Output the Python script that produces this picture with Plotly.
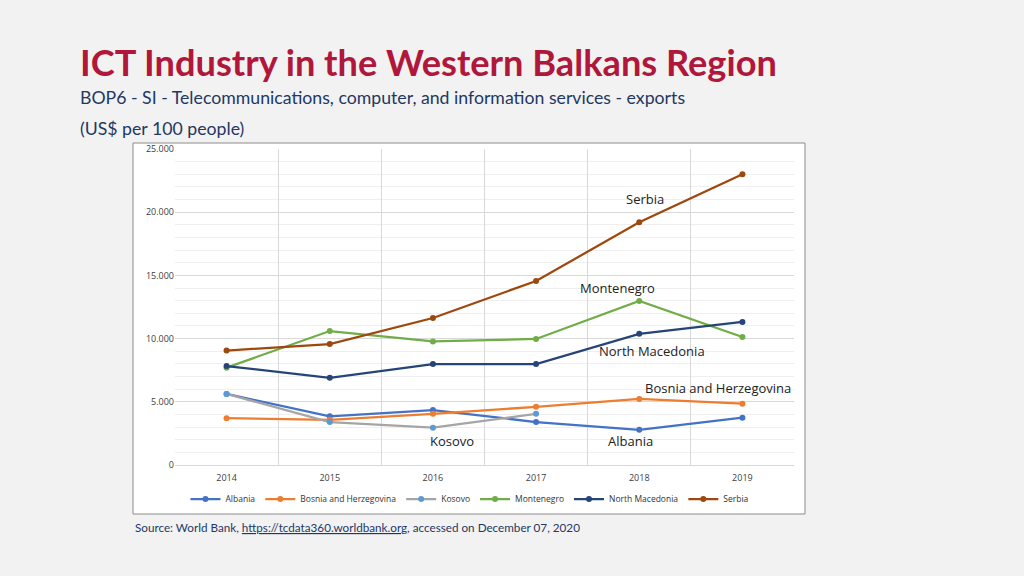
import plotly.graph_objects as go

years = ["2014", "2015", "2016", "2017", "2018", "2019"]

albania = [5620, 3850, 4350, 3400, 2780, 3740]
bosnia = [3700, 3580, 4050, 4600, 5230, 4850]
kosovo = [5620, 3400, 2950, 4050]
montenegro = [7700, 10600, 9780, 9970, 12970, 10130]
north_macedonia = [7830, 6900, 7990, 7990, 10380, 11320]
serbia = [9050, 9570, 11630, 14560, 19200, 23000]

y_ticks = [0, 5000, 10000, 15000, 20000, 25000]

series = [
    ("Albania", albania, "#4472C4", "#4472C4"),
    ("Bosnia and Herzegovina", bosnia, "#ED7D31", "#ED7D31"),
    ("Kosovo", kosovo, "#A5A5A5", "#5B9BD5"),
    ("Montenegro", montenegro, "#70AD47", "#70AD47"),
    ("North Macedonia", north_macedonia, "#264478", "#264478"),
    ("Serbia", serbia, "#9E480E", "#9E480E"),
]

fig = go.Figure()

for name, vals, lc, mc in series:
    fig.add_trace(go.Scatter(
        x=years[:len(vals)],
        y=vals,
        mode="lines+markers",
        name=name,
        line=dict(color=lc, width=2.25),
        marker=dict(color=mc, size=6),
    ))

# labels placed next to the lines (category, y value, pixel shifts)
labels = [
    ("Serbia", "2018", 21300, 6, -3),
    ("Montenegro", "2018", 14250, -22, -3),
    ("North Macedonia", "2018", 9300, 13, -4),
    ("Bosnia and Herzegovina", "2019", 6350, -24, -3),
    ("Kosovo", "2016", 1900, 19, 0),
    ("Albania", "2018", 1900, -9, 0),
]
for txt, xv, yv, sx, sy in labels:
    fig.add_annotation(x=years.index(xv), y=yv, xref="x", yref="y", text=txt, showarrow=False,
                       xshift=sx, yshift=sy, font=dict(family="Open Sans", size=13, color="#222222"))

W, H = 1024, 576
L, R, T, B = 175, 230, 149, 111


def px(xp):
    return (xp - L) / (W - L - R)


def py(yp):
    return (H - B - yp) / (H - T - B)


fig.add_annotation(xref="paper", yref="paper", x=px(78), y=py(62), xanchor="left", yanchor="middle",
                   text="<b>ICT Industry in the Western Balkans Region</b>", showarrow=False,
                   font=dict(family="Lato", size=36.2, color="#B0173A"))
fig.add_annotation(xref="paper", yref="paper", x=px(78), y=py(97), xanchor="left", yanchor="middle",
                   text="BOP6 - SI - Telecommunications, computer, and information services - exports",
                   showarrow=False, font=dict(family="Lato", size=17.7, color="#1F3864"))
fig.add_annotation(xref="paper", yref="paper", x=px(78), y=py(128), xanchor="left", yanchor="middle",
                   text="(US$ per 100 people)", showarrow=False,
                   font=dict(family="Lato", size=17.7, color="#1F3864"))
fig.add_annotation(xref="paper", yref="paper", x=px(133), y=py(527), xanchor="left", yanchor="middle",
                   text="Source: World Bank, <u>https://tcdata360.worldbank.org</u>, accessed on December 07, 2020",
                   showarrow=False, font=dict(family="Lato", size=11.7, color="#1F3864"))

# chart area box
fig.add_shape(type="rect", xref="paper", yref="paper", x0=px(133), x1=px(805), y0=py(514), y1=py(143),
              fillcolor="white", line=dict(color="#8C8C8C", width=1), layer="below")

fig.update_layout(
    width=W, height=H,
    margin=dict(l=L, r=R, t=T, b=B),
    paper_bgcolor="#F2F2F2",
    plot_bgcolor="rgba(0,0,0,0)",
    separators=",.",
    showlegend=True,
    legend=dict(orientation="h", x=px(470), xanchor="center", y=py(499), yanchor="middle",
                font=dict(family="Open Sans", size=8.5, color="#333333"), bgcolor="rgba(0,0,0,0)",
                itemwidth=30, tracegroupgap=0),
    xaxis=dict(type="category", tickson="boundaries", showgrid=True, gridcolor="#D9D9D9",
               ticks="", showline=True, linecolor="#D9D9D9", range=[-0.5, 5.5],
               tickfont=dict(family="Open Sans", size=9, color="#404040"), ticklabelstandoff=4),
    yaxis=dict(range=[0, 25000], tickvals=y_ticks, tickformat=",d", showgrid=True,
               gridcolor="#D9D9D9", zeroline=False, ticks="",
               minor=dict(dtick=1000, showgrid=True, gridcolor="#EFEFEF"),
               tickfont=dict(family="Open Sans", size=9, color="#404040")),
)

fig.write_html("out.html", config={"displayModeBar": False},
               post_script="document.body.style.margin='0';")
